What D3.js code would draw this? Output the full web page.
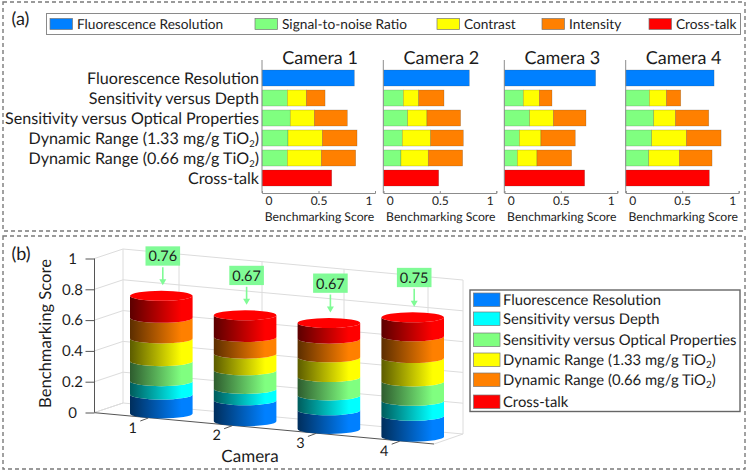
<!DOCTYPE html>
<html><head><meta charset="utf-8">
<script src="https://cdn.jsdelivr.net/npm/d3@7/dist/d3.min.js"></script>
<style>html,body{margin:0;padding:0;background:#fff}svg{display:block}text{font-family:"Lato","Noto Sans",sans-serif;fill:#1c1c1c;text-rendering:geometricPrecision}</style>
</head><body><svg id="c" width="748" height="473"></svg>
<script>
const cameras = ["Camera 1","Camera 2","Camera 3","Camera 4"];
const rowLabels = [["Fluorescence Resolution"],["Sensitivity versus Depth"],["Sensitivity versus Optical Properties"],["Dynamic Range (1.33 mg/g TiO","2",")"],["Dynamic Range (0.66 mg/g TiO","2",")"],["Cross-talk"]];
const legendA = ["Fluorescence Resolution","Signal-to-noise Ratio","Contrast","Intensity","Cross-talk"];
const legendAColors = ["#0080ff","#80ff80","#ffff00","#ff8000","#ff0000"];
const legendAX = [50,255,437,542,649];
// panel (a) – segment lengths per camera
const fluorescence = [0.817,0.761,0.808,0.782];
const crossTalk = [0.617,0.490,0.711,0.740];
const depthSegs = [[.224,.168,.166],[.177,.136,.224],[.168,.142,.112],[.209,.151,.127]];
const opticalSegs = [[.250,.213,.292],[.215,.171,.298],[.224,.210,.289],[.248,.192,.295]];
const dr133Segs = [[.230,.304,.307],[.168,.251,.289],[.133,.191,.304],[.230,.307,.307]];
const dr066Segs = [[.224,.301,.304],[.156,.242,.304],[.115,.174,.307],[.204,.271,.289]];
const panelAxisX = [262,383.3,504.3,625.7];
const xTicks = [0,0.5,1];
// panel (b)
const cyl = [1,2,3,4];
const cylTotals = ["0.76","0.67","0.67","0.75"];
const cylFluor = [.123,.136,.121,.136];
const cylDepth = [.087,.074,.097,.097];
const cylOptical = [.130,.121,.119,.126];
const cylDr133 = [.147,.108,.128,.152];
const cylDr066 = [.134,.108,.121,.141];
const cylCross = [.143,.141,.102,.123];
const cylSeries = [cylFluor,cylDepth,cylOptical,cylDr133,cylDr066,cylCross];
const cylColors = ["#0080ff","#00ffff","#80ff80","#ffff00","#ff8000","#ff0000"];
const legendB = [["Fluorescence Resolution"],["Sensitivity  versus Depth"],["Sensitivity versus Optical Properties"],["Dynamic Range (1.33 mg/g TiO","2",")"],["Dynamic Range (0.66 mg/g TiO","2",")"],["Cross-talk"]];
const legendBY = [293,312,333,353,373,395];
const zTicks = [0,0.2,0.4,0.6,0.8,1];

const svg = d3.select("#c");
const gray="#7a7a7a";
function rich(sel,parts,sub){
  sel.append("tspan").text(parts[0]);
  if(parts.length>1){
    sel.append("tspan").attr("dy",sub[0]).attr("font-size",sub[1]).text(parts[1]);
    sel.append("tspan").attr("dy",-sub[0]).text(parts[2]);
  }
}
// dashed frames
[[3,2,742,229],[3,236,742,233]].forEach(r=>svg.append("rect").attr("x",r[0]).attr("y",r[1]).attr("width",r[2]).attr("height",r[3])
  .attr("fill","none").attr("stroke",gray).attr("stroke-width",1.4).attr("stroke-dasharray","4 3"));
svg.append("text").attr("x",11.5).attr("y",25).attr("font-size",18).text("(a)");
svg.append("text").attr("x",11.5).attr("y",260).attr("font-size",18).text("(b)");

// legend a
svg.append("rect").attr("x",46.5).attr("y",13.5).attr("width",694).attr("height",21).attr("fill","#fff").attr("stroke","#8a8a8a").attr("stroke-width",1);
legendA.forEach((t,i)=>{
  svg.append("rect").attr("x",legendAX[i]).attr("y",18.5).attr("width",22.5).attr("height",11).attr("fill",legendAColors[i]).attr("stroke","#777").attr("stroke-width",.7);
  svg.append("text").attr("x",legendAX[i]+27).attr("y",29).attr("font-size",13.7).text(t);
});

// small multiples
const rowY = d3.scaleBand().domain(d3.range(6)).range([68,188]).paddingInner(0.2).paddingOuter(0.1);
rowLabels.forEach((p,i)=>{
  const t=svg.append("text").attr("x",259).attr("y",rowY(i)+rowY.bandwidth()/2+5.5).attr("text-anchor","end").attr("font-size",16.1);
  rich(t,p,[3.5,9.5]);
});
cameras.forEach((name,c)=>{
  const x0=panelAxisX[c];
  const x=d3.scaleLinear().domain([0,1]).range([x0,x0+113]);
  const lab=d3.scaleLinear().domain([0,1]).range([x0+6.5,x0+106.5]);
  const g=svg.append("g");
  g.append("text").attr("x",x0+58).attr("y",64).attr("text-anchor","middle").attr("font-size",18).text(name);
  const rows=[[fluorescence[c]],depthSegs[c],opticalSegs[c],dr133Segs[c],dr066Segs[c],[crossTalk[c]]];
  const cols=[["#0080ff"],["#80ff80","#ffff00","#ff8000"],["#80ff80","#ffff00","#ff8000"],["#80ff80","#ffff00","#ff8000"],["#80ff80","#ffff00","#ff8000"],["#ff0000"]];
  rows.forEach((segs,r)=>{
    let acc=0;
    segs.forEach((v,s)=>{
      g.append("rect").attr("x",x(acc)).attr("y",rowY(r)).attr("width",x(acc+v)-x(acc)).attr("height",rowY.bandwidth())
        .attr("fill",cols[r][s]).attr("stroke","rgba(60,60,60,.35)").attr("stroke-width",.6);
      acc+=v;
    });
  });
  const ax=d3.axisBottom(x).tickValues(xTicks).tickFormat(d3.format("~g")).tickSizeInner(-2).tickSizeOuter(-2);
  const ag=g.append("g").attr("transform","translate(0,193)").call(ax);
  ag.selectAll("path,line").attr("stroke","#8c8c8c");
  ag.selectAll("text").attr("x",d=>lab(d)-x(d)).attr("y",3.5).attr("dy",".71em").attr("font-size",12).attr("fill","#1c1c1c").attr("font-family",'"Lato"');
  g.append("line").attr("x1",x0).attr("x2",x0).attr("y1",60).attr("y2",193).attr("stroke","#8c8c8c");
  g.append("text").attr("x",x0+57.5).attr("y",221).attr("text-anchor","middle").attr("font-size",12.2).text("Benchmarking Score");
});

// panel b walls
const z=d3.scaleLinear().domain([0,1]).range([412.5,258.5]);
const cx=d3.scaleLinear().domain([1,4]).range([161.3,412.7]);
const baseY=d3.scaleLinear().domain([1,4]).range([413.5,436.7]);
const walls=svg.append("g").attr("stroke","#dcdcdc").attr("stroke-width",1).attr("fill","none");
const backY=(x,v)=>z(v)-9.5+(x-123)*31/340;
zTicks.forEach(v=>{
  walls.append("path").attr("d",`M94.5,${z(v)}L123,${backY(123,v)}L463,${backY(463,v)}`);
});
[123,179,262,344,428,463].forEach(x=>walls.append("line").attr("x1",x).attr("x2",x).attr("y1",backY(x,1)).attr("y2",backY(x,0)));
[179,262,344,428].forEach(x=>walls.append("line").attr("x1",x).attr("y1",backY(x,0)).attr("x2",x-29).attr("y2",backY(x,0)+10));
walls.append("line").attr("x1",94.5).attr("y1",z(0)).attr("x2",123).attr("y2",backY(123,0));
walls.append("line").attr("x1",434).attr("y1",444).attr("x2",463).attr("y2",backY(463,0));

// axes
const axc="#555";
svg.append("line").attr("x1",94.5).attr("x2",94.5).attr("y1",z(1)).attr("y2",z(0)).attr("stroke",axc).attr("stroke-width",1);
const zAxis=d3.axisLeft(z).tickValues(zTicks).tickFormat(d3.format("~g")).tickSize(9).tickSizeOuter(0);
const zg=svg.append("g").attr("transform","translate(94.5,0)").call(zAxis);
zg.select("path").remove();
zg.selectAll("line").attr("stroke",axc);
zg.selectAll("text").attr("x",-22).attr("text-anchor","middle").attr("font-size",15).attr("fill","#1c1c1c").attr("font-family",'"Lato"');
svg.append("line").attr("x1",94.5).attr("y1",412.7).attr("x2",434).attr("y2",444).attr("stroke",axc).attr("stroke-width",1);
svg.append("text").attr("transform","translate(51,333.5) rotate(-90)").attr("text-anchor","middle").attr("font-size",16.6).text("Benchmarking Score");
svg.append("text").attr("x",250).attr("y",462).attr("text-anchor","middle").attr("font-size",17).text("Camera");

// cylinders
const defs=svg.append("defs");
cylColors.forEach((col,i)=>{
  const g=defs.append("linearGradient").attr("id","g"+i).attr("x1",0).attr("x2",1).attr("y1",0).attr("y2",0);
  const c=d3.color(col);
  const dark=d3.rgb(c.r*.36,c.g*.36,c.b*.36).formatHex();
  g.append("stop").attr("offset","0%").attr("stop-color",dark);
  g.append("stop").attr("offset","82%").attr("stop-color",col);
  g.append("stop").attr("offset","100%").attr("stop-color",col);
});
const rx=31.3, ry=5, labelGreen="#80fb96";
const arrowHead=(x,y)=>`M${x-3.5},${y-6}L${x},${y}L${x+3.5},${y-6}Z`;
cyl.forEach((n,c)=>{
  const X=cx(n), B=baseY(n), H=154;
  const g=svg.append("g");
  let acc=0;
  cylSeries.forEach((s,i)=>{
    const yb=B-acc*H, yt=B-(acc+s[c])*H;
    g.append("path").attr("d",`M${X-rx},${yt}A${rx},${ry} 0 0 0 ${X+rx},${yt}L${X+rx},${yb}A${rx},${ry} 0 0 1 ${X-rx},${yb}Z`)
      .attr("fill",`url(#g${i})`);
    acc+=s[c];
  });
  const top=B-acc*H;
  g.append("ellipse").attr("cx",X).attr("cy",top).attr("rx",rx).attr("ry",ry).attr("fill","#ff0000");
  const bx=X+1.5, by=top-49.5;
  g.append("rect").attr("x",bx-17.3).attr("y",by).attr("width",34.6).attr("height",19.3).attr("fill",labelGreen);
  g.append("text").attr("x",bx).attr("y",by+15).attr("text-anchor","middle").attr("font-size",14.5).text(cylTotals[c]);
  g.append("line").attr("x1",bx).attr("x2",bx).attr("y1",by+21).attr("y2",by+34).attr("stroke",labelGreen).attr("stroke-width",1.6);
  g.append("path").attr("d",arrowHead(bx,by+39)).attr("fill",labelGreen);
  // category label and tick
  const tx=cx(n)-21, ty=B+4.5;
  svg.append("line").attr("x1",tx).attr("y1",ty+3).attr("x2",tx+8).attr("y2",ty).attr("stroke",axc).attr("stroke-width",1);
  svg.append("text").attr("x",cx(n)-28.5).attr("y",B+19).attr("text-anchor","middle").attr("font-size",14.5).text(n);
});

// legend b
svg.append("rect").attr("x",470).attr("y",290).attr("width",270).attr("height",121.5).attr("fill","#fff").attr("stroke","#666").attr("stroke-width",1.4);
legendB.forEach((p,i)=>{
  svg.append("rect").attr("x",473.5).attr("y",legendBY[i]).attr("width",26.5).attr("height",13.5).attr("fill",cylColors[i]).attr("stroke","#777").attr("stroke-width",.7);
  const t=svg.append("text").attr("x",503).attr("y",legendBY[i]+12).attr("font-size",14.8);
  rich(t,p,[3,10]);
});
</script></body></html>
